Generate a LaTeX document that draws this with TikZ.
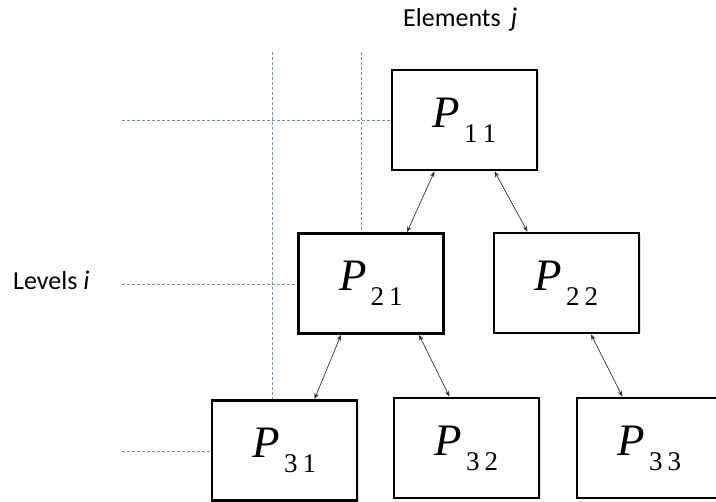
\documentclass[tikz,border=0pt]{standalone}
\usepackage{fontspec}
\setmainfont{Liberation Serif}
\newfontfamily\lblfont{Carlito}
\usetikzlibrary{arrows.meta,shadows}
\definecolor{guide}{HTML}{7090B0}
\definecolor{arrowgray}{HTML}{333333}
\newcommand{\Pbox}[2]{{\fontsize{45}{48}\selectfont\itshape P}\raisebox{-15pt}{\fontsize{27}{29}\selectfont\hspace{4pt}#1\hspace{5pt}#2}}
\tikzset{
  pbox/.style={draw=black, line width=2.6pt, fill=white, minimum width=145pt, minimum height=100pt, inner sep=0pt,
    drop shadow={opacity=0.25, shadow xshift=1.5pt, shadow yshift=-1.5pt}},
  guideline/.style={draw=guide, line width=0.6pt, dash pattern=on 3pt off 2pt},
  link/.style={draw=arrowgray, line width=0.7pt, {Stealth[length=6pt,width=4.5pt]}-{Stealth[length=6pt,width=4.5pt]}},
  lbl/.style={inner sep=0pt, font=\lblfont\fontsize{26}{30}\selectfont}
}
\begin{document}
\begin{tikzpicture}[x=1pt,y=-1pt]
\useasboundingbox (0,0) rectangle (716,502);
\clip (0,0) rectangle (716,502);
% guide coordinates
\coordinate (v1top) at (272,52);
\coordinate (v2top) at (361,52);
\coordinate (h1left) at (122,120);
\coordinate (h2left) at (122,284);
\coordinate (h3left) at (122,451);
% labels
\node[lbl, anchor=base west] (elem) at (403,27) {Elements\hspace{10pt}\textit{\fontsize{27}{30}\selectfont j}};
\node[lbl, anchor=base west] (lev) at (13,290) {Levels \textit{\fontsize{27}{30}\selectfont i}};
% guide lines (behind boxes)
\draw[guideline] (v1top) -- (272,401);
\draw[guideline] (v2top) -- (361,234);
\draw[guideline] (h1left) -- (392,120);
\draw[guideline] (h2left) -- (298,284);
\draw[guideline] (h3left) -- (212,451);
% boxes
\node[pbox] (p11) at (464.5,120) {\Pbox{1}{1}};
\node[pbox] (p21) at (371,283.5) {\Pbox{2}{1}};
\node[pbox] (p22) at (566.5,283) {\Pbox{2}{2}};
\node[pbox] (p31) at (284.5,450.5) {\Pbox{3}{1}};
\node[pbox] (p32) at (466.5,448) {\Pbox{3}{2}};
\node[pbox] (p33) at (649.5,448) {\Pbox{3}{3}};
% links
\draw[link] ([xshift=-30pt]p11.south) -- ([xshift=36pt]p21.north);
\draw[link] ([xshift=30pt]p11.south) -- ([xshift=-39pt]p22.north);
\draw[link] ([xshift=-30pt]p21.south) -- ([xshift=30pt]p31.north);
\draw[link] ([xshift=48pt]p21.south) -- ([xshift=-17pt]p32.north);
\draw[link] ([xshift=24.5pt]p22.south) -- ([xshift=-27pt]p33.north);
\end{tikzpicture}
\end{document}
